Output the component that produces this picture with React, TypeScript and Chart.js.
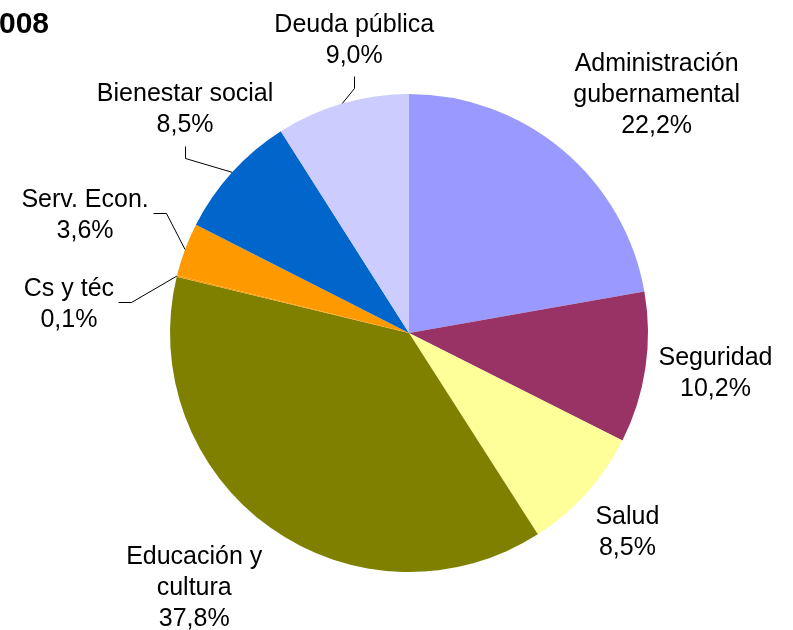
import React, { useEffect, useRef } from "react";
import { Chart, registerables } from "chart.js";

Chart.register(...registerables);

const titleText = "2008";
const categories = [
  ["Administración", "gubernamental"],
  ["Seguridad"],
  ["Salud"],
  ["Educación y", "cultura"],
  ["Cs y téc"],
  ["Serv. Econ."],
  ["Bienestar social"],
  ["Deuda pública"],
];
const shares = [22.2, 10.2, 8.5, 37.8, 0.1, 3.6, 8.5, 9.0];
const sliceColors = [
  "#9999FF",
  "#993366",
  "#FFFF99",
  "#808000",
  "#FF9900",
  "#FF9900",
  "#0066CC",
  "#CCCCFF",
];

// label layout: offset of the label block centre from the slice's outer mid point
const labelLayout = [
  { dx: 94, dy: -57, leader: "" },
  { dx: 70, dy: 4, leader: "" },
  { dx: 41, dy: 37, leader: "" },
  { dx: -76, dy: 58, leader: "" },
  { dx: -108, dy: 26, leader: "right" },
  { dx: -100, dy: -36, leader: "right" },
  { dx: -47, dy: -64.5, leader: "bottom" },
  { dx: 12, dy: -65.5, leader: "bottom" },
];

const FONT = '25px "Liberation Sans", Arial, sans-serif';
const LINE_H = 31;

const labelPlugin = {
  id: "pieLabels",
  afterDatasetsDraw(chart: any) {
    const ctx = chart.ctx;
    const meta = chart.getDatasetMeta(0);
    ctx.save();
    ctx.font = FONT;
    ctx.fillStyle = "#000";
    ctx.strokeStyle = "#000";
    ctx.lineWidth = 1;
    meta.data.forEach((arc: any, i: number) => {
      const p = arc.getProps(["x", "y", "startAngle", "endAngle", "outerRadius"], true);
      const mid = (p.startAngle + p.endAngle) / 2;
      const ex = p.x + Math.cos(mid) * p.outerRadius;
      const ey = p.y + Math.sin(mid) * p.outerRadius;
      const lay = labelLayout[i];
      const cx = ex + lay.dx;
      const cy = ey + lay.dy;
      const lines = [...categories[i], shares[i].toFixed(1).replace(".", ",") + "%"];
      const blockH = lines.length * LINE_H;
      let maxW = 0;
      lines.forEach((l) => {
        maxW = Math.max(maxW, ctx.measureText(l).width);
      });
      ctx.textAlign = "center";
      ctx.textBaseline = "alphabetic";
      lines.forEach((l, k) => {
        const base = cy - blockH / 2 + (k + 0.5) * LINE_H + 9;
        ctx.fillText(l, cx, base);
      });
      if (lay.leader) {
        let ax: number, ay: number, bx: number, by: number;
        if (lay.leader === "bottom") {
          ax = cx;
          ay = cy + blockH / 2 + 7;
          bx = ax;
          by = ay + 12;
        } else {
          ax = cx + maxW / 2 + 4;
          ay = cy;
          bx = ax + 13;
          by = ay;
        }
        ctx.beginPath();
        ctx.moveTo(Math.round(ax) + 0.5, Math.round(ay) + 0.5);
        ctx.lineTo(Math.round(bx) + 0.5, Math.round(by) + 0.5);
        ctx.lineTo(ex, ey);
        ctx.stroke();
      }
    });
    // title (partly outside the canvas, as in the reference)
    ctx.font = 'bold 30px "Liberation Sans", Arial, sans-serif';
    ctx.textAlign = "right";
    ctx.textBaseline = "alphabetic";
    ctx.fillText(titleText, 49, 33);
    ctx.restore();
  },
};

export default function App() {
  const ref = useRef<HTMLCanvasElement>(null);
  useEffect(() => {
    if (!ref.current) return;
    const chart = new Chart(ref.current, {
      type: "pie",
      data: {
        labels: categories.map((c) => c.join(" ")),
        datasets: [
          {
            data: shares,
            backgroundColor: sliceColors,
            borderWidth: 0,
          },
        ],
      },
      options: {
        responsive: false,
        animation: false,
        layout: { padding: { left: 170, right: 145, top: 94, bottom: 58 } },
        plugins: {
          legend: { display: false },
          tooltip: { enabled: false },
          title: { display: false },
        },
      },
      plugins: [labelPlugin],
    });
    return () => chart.destroy();
  }, []);
  return (
    <div style={{ position: "fixed", left: 0, top: 0, width: 793, height: 630, background: "#fff" }}>
      <canvas ref={ref} width={793} height={630} style={{ display: "block" }} />
    </div>
  );
}
